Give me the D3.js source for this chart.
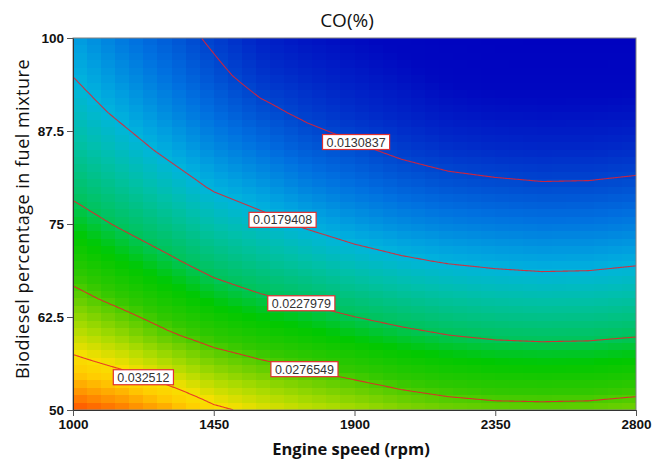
<!DOCTYPE html>
<html>
<head>
<meta charset="utf-8">
<script src="https://cdn.jsdelivr.net/npm/d3@7"></script>
<style>
  body { margin: 0; background: #fff; }
  svg text { font-family: "Open Sans", "Liberation Sans", Arial, sans-serif; }
</style>
</head>
<body>
<svg id="chart" width="665" height="461"></svg>
<script>
// engine speed (rpm) columns and biodiesel (%) rows of the CO(%) surface
var speeds = [1000, 1150, 1300, 1450, 1600, 1750, 1900, 2050, 2200, 2350, 2500, 2650, 2800];
var blends = [50, 55, 60, 65, 70, 75, 80, 85, 90, 95, 100];

// CO (%), one array per biodiesel level
var coB50  = [0.03722, 0.03635, 0.03505, 0.03300, 0.03185, 0.03093, 0.03016, 0.02932, 0.02875, 0.02842, 0.02835, 0.02843, 0.02880];
var coB55  = [0.03394, 0.03285, 0.03131, 0.02969, 0.02870, 0.02788, 0.02707, 0.02628, 0.02569, 0.02533, 0.02522, 0.02529, 0.02561];
var coB60  = [0.03104, 0.02968, 0.02805, 0.02669, 0.02576, 0.02501, 0.02417, 0.02343, 0.02284, 0.02247, 0.02232, 0.02239, 0.02269];
var coB65  = [0.02844, 0.02693, 0.02545, 0.02407, 0.02310, 0.02235, 0.02147, 0.02076, 0.02020, 0.01985, 0.01967, 0.01974, 0.02003];
var coB70  = [0.02611, 0.02463, 0.02324, 0.02179, 0.02073, 0.01985, 0.01895, 0.01827, 0.01777, 0.01746, 0.01727, 0.01733, 0.01764];
var coB75  = [0.02399, 0.02253, 0.02114, 0.01959, 0.01863, 0.01761, 0.01675, 0.01610, 0.01563, 0.01535, 0.01516, 0.01521, 0.01548];
var coB80  = [0.02211, 0.02065, 0.01917, 0.01769, 0.01673, 0.01568, 0.01491, 0.01424, 0.01376, 0.01349, 0.01331, 0.01335, 0.01358];
var coB85  = [0.02046, 0.01899, 0.01750, 0.01606, 0.01504, 0.01404, 0.01339, 0.01268, 0.01215, 0.01188, 0.01172, 0.01176, 0.01196];
var coB90  = [0.01906, 0.01755, 0.01609, 0.01469, 0.01356, 0.01270, 0.01200, 0.01140, 0.01081, 0.01053, 0.01041, 0.01044, 0.01060];
var coB95  = [0.01789, 0.01634, 0.01495, 0.01358, 0.01230, 0.01164, 0.01100, 0.01042, 0.00973, 0.00943, 0.00936, 0.00938, 0.00951];
var coB100 = [0.01696, 0.01535, 0.01407, 0.01273, 0.01140, 0.01060, 0.01010, 0.00960, 0.00910, 0.00880, 0.00865, 0.00862, 0.00869];
var coGrid = [coB50, coB55, coB60, coB65, coB70, coB75, coB80, coB85, coB90, coB95, coB100];

var contourLevels = [0.0130837, 0.0179408, 0.0227979, 0.0276549, 0.032512];
var labelSpeeds   = [1905, 1670, 1730, 1740, 1225];

var xTicks = [1000, 1450, 1900, 2350, 2800];
var yTicks = [50, 62.5, 75, 87.5, 100];

var coMin = 0.0082266, coMax = 0.0373691;
var colorStops = [0, 0.06, 0.12, 0.17, 0.23, 0.30, 0.333, 0.40, 0.46, 0.50, 0.56, 0.64, 0.70, 0.76, 0.83, 0.88, 0.94, 1];
var colorList  = ["#0000c0", "#0008c0", "#0028c8", "#0048d0", "#0070e0", "#00a0e0", "#00b4dc", "#00c0a8",
                  "#00c278", "#00c458", "#00c800", "#30c800", "#70d000", "#b0dc00", "#f8e000", "#ffcc00", "#ff9000", "#ff4800"];

var svg = d3.select("#chart");
var x = d3.scaleLinear().domain([1000, 2800]).range([73, 636]);
var y = d3.scaleLinear().domain([50, 100]).range([410, 38]);
var color = d3.scaleLinear()
  .domain(colorStops.map(function(t){ return coMin + t * (coMax - coMin); }))
  .range(colorList)
  .clamp(true);

// each row as a piecewise scale along speed
var rowScales = coGrid.map(function(row){ return d3.scaleLinear().domain(speeds).range(row); });
function columnAt(s) { return rowScales.map(function(r){ return r(s); }); }
function valueAt(s, b) { return d3.scaleLinear().domain(blends).range(columnAt(s))(b); }

// surface cells
var nx = 40, ny = 50;
var cells = [];
for (var i = 0; i < nx; i++) {
  for (var j = 0; j < ny; j++) {
    var s0 = 1000 + i * 1800 / nx, s1 = 1000 + (i + 1) * 1800 / nx;
    var b0 = 50 + j * 50 / ny, b1 = 50 + (j + 1) * 50 / ny;
    cells.push({s0: s0, s1: s1, b0: b0, b1: b1, v: valueAt((s0 + s1) / 2, (b0 + b1) / 2)});
  }
}
svg.append("g").selectAll("rect").data(cells).join("rect")
  .attr("x", function(d){ return Math.round(x(d.s0)); })
  .attr("y", function(d){ return Math.round(y(d.b1)); })
  .attr("width", function(d){ return Math.round(x(d.s1)) - Math.round(x(d.s0)); })
  .attr("height", function(d){ return Math.round(y(d.b0)) - Math.round(y(d.b1)); })
  .attr("fill", function(d){ return color(d.v); })
  .attr("shape-rendering", "crispEdges");

svg.append("clipPath").attr("id", "plotclip")
  .append("rect").attr("x", 73).attr("y", 38).attr("width", 563).attr("height", 372);

// where a level crosses a speed column
function blendAt(s, level) {
  var col = columnAt(s);
  var lo = d3.min(col), hi = d3.max(col);
  if (level < lo || level > hi) return null;
  return d3.scaleLinear().domain(col).range(blends)(level);
}

var sampleSpeeds = d3.range(1000, 2800.001, 4);
var line = d3.line()
  .defined(function(d){ return d[1] !== null; })
  .x(function(d){ return x(d[0]); })
  .y(function(d){ return y(d[1]); });

var gLines = svg.append("g").attr("clip-path", "url(#plotclip)");
contourLevels.forEach(function(level){
  var pts = sampleSpeeds.map(function(s){ return [s, blendAt(s, level)]; });
  gLines.append("path")
    .attr("d", line(pts))
    .attr("fill", "none")
    .attr("stroke", "#e8202c")
    .attr("stroke-opacity", 0.85)
    .attr("stroke-width", 1.1);
});

// contour labels
var gLab = svg.append("g");
contourLevels.forEach(function(level, k){
  var s = labelSpeeds[k];
  var b = blendAt(s, level);
  if (b === null) return;
  var cx = x(s), cy = y(b);
  var g = gLab.append("g");
  var t = g.append("text")
    .attr("x", cx).attr("y", cy + 4.5)
    .attr("text-anchor", "middle")
    .style("font-family", "'Liberation Sans', Arial, sans-serif")
    .style("font-size", "12.5px")
    .attr("fill", "#333")
    .text(String(level));
  var w = t.node().getComputedTextLength() + 8;
  g.insert("rect", "text")
    .attr("x", cx - w / 2).attr("y", cy - 7.5)
    .attr("width", w).attr("height", 15)
    .attr("fill", "#fff")
    .attr("stroke", "#e03030")
    .attr("stroke-width", 1.2);
});

// frame and axes
svg.append("rect")
  .attr("x", 73).attr("y", 38).attr("width", 563).attr("height", 372)
  .attr("fill", "none").attr("stroke", "#808080").attr("stroke-width", 1);

var xAxis = svg.append("g").attr("transform", "translate(0,410)")
  .call(d3.axisBottom(x).tickValues(xTicks).tickSize(6).tickSizeOuter(0).tickFormat(d3.format("d")));
var yAxis = svg.append("g").attr("transform", "translate(73,0)")
  .call(d3.axisLeft(y).tickValues(yTicks).tickSize(6).tickSizeOuter(0).tickFormat(function(d){ return String(d); }));
[xAxis, yAxis].forEach(function(a){
  a.select(".domain").attr("stroke", "#333");
  a.selectAll(".tick line").attr("stroke", "#555");
  a.selectAll(".tick text")
    .attr("fill", "#111")
    .style("font-family", "'Liberation Sans', Arial, sans-serif")
    .style("font-size", "13.5px")
    .style("font-weight", "bold");
});

svg.append("text")
  .attr("x", 347).attr("y", 27)
  .attr("text-anchor", "middle")
  .style("font-size", "19px")
  .attr("fill", "#111")
  .text("CO(%)");

svg.append("text")
  .attr("x", 351).attr("y", 455)
  .attr("text-anchor", "middle")
  .style("font-size", "16.5px")
  .style("font-weight", "bold")
  .attr("fill", "#111")
  .text("Engine speed (rpm)");

svg.append("text")
  .attr("transform", "translate(29,219) rotate(-90)")
  .attr("text-anchor", "middle")
  .style("font-size", "18px")
  .style("letter-spacing", "0.5px")
  .attr("fill", "#111")
  .text("Biodiesel percentage in fuel mixture");
</script>
</body>
</html>
